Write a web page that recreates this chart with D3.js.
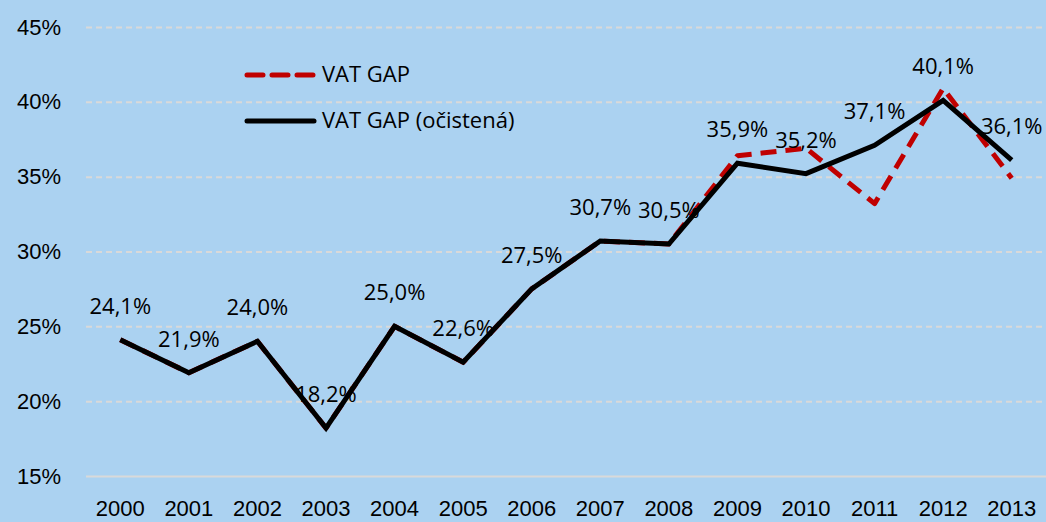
<!doctype html>
<html>
<head>
<meta charset="utf-8">
<script src="https://cdnjs.cloudflare.com/ajax/libs/d3/7.8.5/d3.min.js"></script>
<style>
  body { margin: 0; background: #abd2f1; }
  svg { display: block; font-family: "Open Sans", "Noto Sans", sans-serif; }
</style>
</head>
<body>
<svg id="chart" width="1046" height="522"></svg>
<script>
// data
var years = ["2000","2001","2002","2003","2004","2005","2006","2007","2008","2009","2010","2011","2012","2013"];
var vatGap = [24.1, 21.9, 24.0, 18.2, 25.0, 22.6, 27.5, 30.7, 30.5, 36.4, 36.9, 33.2, 40.9, 34.9];
var vatGapAdj = [24.1, 21.9, 24.0, 18.2, 25.0, 22.6, 27.5, 30.7, 30.5, 35.9, 35.2, 37.1, 40.1, 36.1];
var yTicks = [15, 20, 25, 30, 35, 40, 45];

var svg = d3.select("#chart");
var plotL = 86, plotR = 1046, plotT = 27, plotB = 476;
var fs = 22;

var x = d3.scaleBand().domain(years).range([plotL, plotR]);
var y = d3.scaleLinear().domain([15, 45]).range([plotB, plotT]);
var cx = function(i) { return x(years[i]) + x.bandwidth() / 2; };

svg.append("rect").attr("width", 1046).attr("height", 522).attr("fill", "#abd2f1");

// grid
var yAxis = d3.axisLeft(y).tickValues(yTicks).tickSize(-(plotR - plotL)).tickPadding(25)
  .tickFormat(function(d) { return d + "%"; });
var gy = svg.append("g").attr("transform", "translate(" + plotL + ",0)").call(yAxis);
gy.select(".domain").remove();
gy.selectAll(".tick line")
  .attr("stroke", "#d9d9d9").attr("stroke-width", 2)
  .attr("stroke-dasharray", function(d) { return d == 15 ? null : "6,4"; });
gy.selectAll(".tick text").attr("font-size", fs).attr("fill", "#000");

var xAxis = d3.axisBottom(x).tickSize(0).tickPadding(24);
var gx = svg.append("g").attr("transform", "translate(0," + plotB + ")").call(xAxis);
gx.select(".domain").remove();
gx.selectAll(".tick text").attr("font-size", fs).attr("fill", "#000");

var line = d3.line().x(function(d, i) { return cx(i); }).y(function(d) { return y(d); });

svg.append("path").datum(vatGap).attr("d", line)
  .attr("fill", "none").attr("stroke", "#c00000").attr("stroke-width", 5)
  .attr("stroke-dasharray", "16,9").attr("stroke-linejoin", "round");

svg.append("path").datum(vatGapAdj).attr("d", line)
  .attr("fill", "none").attr("stroke", "#000").attr("stroke-width", 5)
  .attr("stroke-linejoin", "miter");

svg.selectAll("text.lbl").data(vatGapAdj).enter().append("text")
  .attr("class", "lbl")
  .attr("x", function(d, i) { return cx(i); })
  .attr("y", function(d) { return y(d) - 26; })
  .attr("text-anchor", "middle").attr("font-size", fs).attr("fill", "#000")
  .text(function(d) { return d.toFixed(1).replace(".", ",") + "%"; });

// legend
var legend = [
  { name: "VAT GAP", color: "#c00000", dash: "16,9", ly: 75 },
  { name: "VAT GAP (očistená)", color: "#000", dash: null, ly: 121 }
];
var lg = svg.selectAll("g.leg").data(legend).enter().append("g").attr("class", "leg");
lg.append("line").attr("x1", 247).attr("x2", 314)
  .attr("y1", function(d) { return d.ly; }).attr("y2", function(d) { return d.ly; })
  .attr("stroke", function(d) { return d.color; }).attr("stroke-width", 5)
  .attr("stroke-dasharray", function(d) { return d.dash; })
  .attr("stroke-linecap", "round");
lg.append("text").attr("x", 322).attr("y", function(d) { return d.ly + 7; })
  .attr("font-size", fs).attr("fill", "#000")
  .text(function(d) { return d.name; });
</script>
</body>
</html>
